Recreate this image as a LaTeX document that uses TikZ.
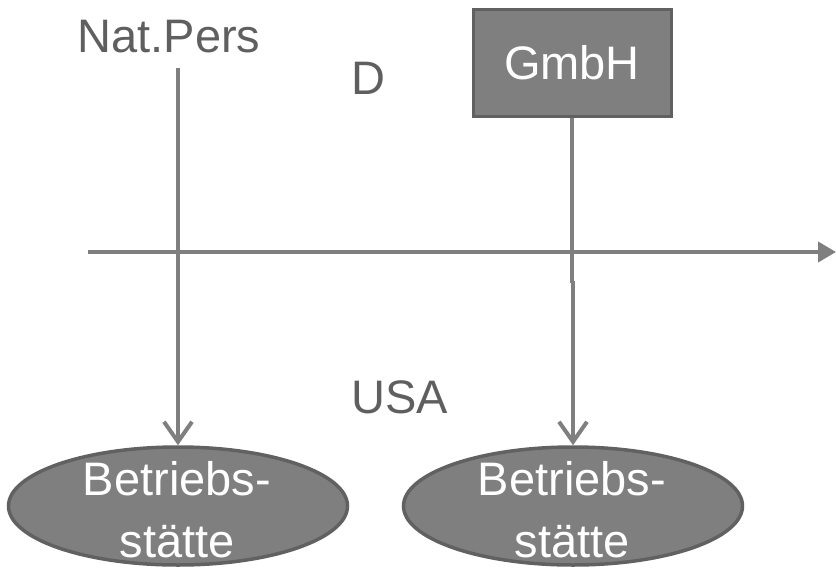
\documentclass[tikz,border=0pt]{standalone}
\usepackage{fontspec}
\setmainfont{Liberation Sans}
\usetikzlibrary{arrows.meta,shapes.geometric}
\definecolor{boxfill}{HTML}{7F7F7F}
\definecolor{boxline}{HTML}{616161}
\definecolor{linec}{HTML}{7F7F7F}
\definecolor{txtc}{HTML}{5F5F5F}
\begin{document}
\begin{tikzpicture}[x=1pt,y=-1pt,
  lbl/.style={font=\fontsize{47}{56}\selectfont, text=txtc, inner sep=0pt, anchor=base},
  ell/.style={ellipse, draw=boxline, line width=3.5pt, fill=boxfill, minimum width=339pt, minimum height=118pt, inner sep=0pt},
  conn/.style={draw=linec, line width=4pt},
  vtip/.style={-{Straight Barb[length=20pt,width=28pt,line width=4pt]}}
]
\useasboundingbox (0,0) rectangle (836,568);
\node[lbl] (nat) at (169,52) {Nat.Pers};
\node[lbl] (d) at (368,94) {D};
\node[lbl] (usa) at (400,413) {USA};
\node[draw=boxline, line width=3pt, fill=boxfill, minimum width=198pt, minimum height=107pt, text=white,
  font=\fontsize{47}{56}\selectfont] (gmbh) at (572,62.5) {GmbH};
\node[ell] (e1) at (178,506) {};
\node[ell] (e2) at (573,506) {};
\node[lbl, text=white] (t1a) at (177,495) {Betriebs-};
\node[lbl, text=white] (t1b) at (177,557) {stätte};
\node[lbl, text=white] (t2a) at (572,495) {Betriebs-};
\node[lbl, text=white] (t2b) at (572,557) {stätte};
\coordinate (ax0) at (88,252);
\coordinate (ax1) at (836,252);
\coordinate (n0) at (178,68);
\coordinate (g1) at (572,283);
\coordinate (g2) at (573,281);
\draw[conn,-{Triangle[length=18pt,width=20pt]}] (ax0) -- (ax1);
\draw[conn,vtip] (n0) -- (e1.north);
\draw[conn] (gmbh.south) -- (g1);
\draw[conn,vtip] (g2) -- (e2.north);
\end{tikzpicture}
\end{document}
